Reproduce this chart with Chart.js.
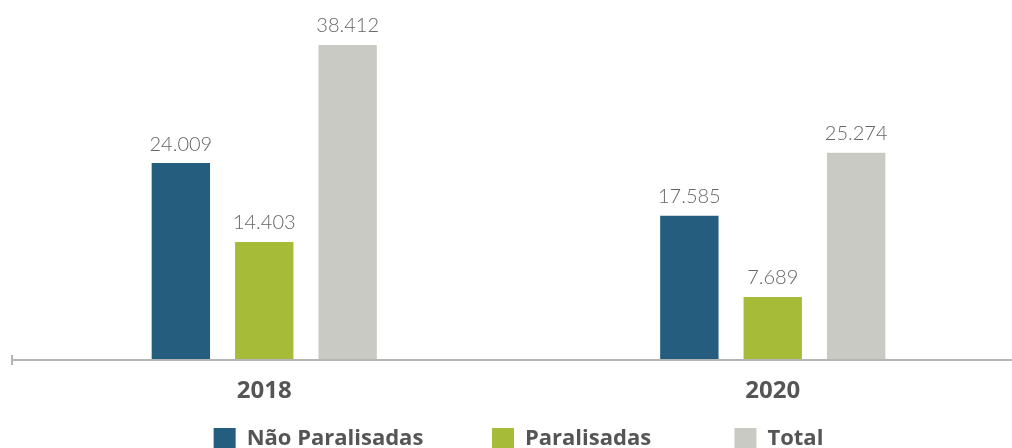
<!DOCTYPE html>
<html>
<head>
<meta charset="utf-8">
<script src="https://cdn.jsdelivr.net/npm/chart.js@4/dist/chart.umd.min.js"></script>
<style>
  html, body { margin: 0; padding: 0; background: #fff; overflow: hidden; }
  #wrap { width: 1030px; height: 448px; }
</style>
</head>
<body>
<div id="wrap"><canvas id="grafico"></canvas></div>
<script>
const anos = ['2018', '2020'];
const naoParalisadas = [24009, 17585];
const paralisadas = [14403, 7689];
const total = [38412, 25274];
const nomesSeries = ['Não Paralisadas', 'Paralisadas', 'Total'];
const cores = ['#255d7e', '#a6bb38', '#c9cac4'];

const formatar = v => v.toLocaleString('pt-BR');
// espaço extra entre itens da legenda
const folga1 = '\u2003\u2003\u2002\u2009';
const folga2 = '\u2003\u2003\u2003\u2009\u2009';

// rótulos acima das barras
const rotulos = {
  id: 'rotulos',
  afterDatasetsDraw(chart) {
    const ctx = chart.ctx;
    ctx.save();
    ctx.font = '300 20px Lato';
    ctx.fillStyle = '#666666';
    ctx.textAlign = 'center';
    ctx.textBaseline = 'bottom';
    chart.data.datasets.forEach((ds, i) => {
      chart.getDatasetMeta(i).data.forEach((bar, j) => {
        ctx.fillText(formatar(ds.data[j]), bar.x, bar.y - 9);
      });
    });
    ctx.restore();
  }
};

// linha do eixo com pequeno traço na esquerda
const eixo = {
  id: 'eixo',
  afterDraw(chart) {
    const ctx = chart.ctx;
    const y = chart.scales.y.getPixelForValue(0);
    ctx.save();
    ctx.strokeStyle = '#b5b5b5';
    ctx.lineWidth = 2;
    ctx.beginPath();
    ctx.moveTo(12, y);
    ctx.lineTo(chart.width, y);
    ctx.stroke();
    ctx.beginPath();
    ctx.moveTo(12, y - 5);
    ctx.lineTo(12, y + 5);
    ctx.stroke();
    ctx.restore();
  }
};

new Chart(document.getElementById('grafico'), {
  type: 'bar',
  data: {
    labels: anos,
    datasets: [
      { label: nomesSeries[0] + folga1, data: naoParalisadas, backgroundColor: cores[0] },
      { label: nomesSeries[1] + folga2, data: paralisadas, backgroundColor: cores[1] },
      { label: nomesSeries[2], data: total, backgroundColor: cores[2] }
    ]
  },
  options: {
    responsive: true,
    maintainAspectRatio: false,
    animation: false,
    layout: { padding: { left: 10, right: 3, top: 0, bottom: -12 } },
    datasets: { bar: { categoryPercentage: 0.492, barPercentage: 0.7 } },
    plugins: {
      legend: {
        position: 'bottom',
        labels: {
          boxWidth: 22,
          boxHeight: 22,
          padding: 10,
          color: '#555555',
          font: { family: 'Open Sans', size: 22, weight: 'bold' }
        }
      },
      tooltip: { enabled: false }
    },
    scales: {
      x: {
        grid: { display: false, drawTicks: false },
        border: { display: false },
        ticks: { color: '#555555', padding: 17, font: { family: 'Open Sans', size: 24, weight: 'bold' } },
        afterFit: (scale) => { scale.height = 58; }
      },
      y: {
        display: false,
        min: 0,
        max: 43900
      }
    }
  },
  plugins: [rotulos, eixo]
});
</script>
</body>
</html>
